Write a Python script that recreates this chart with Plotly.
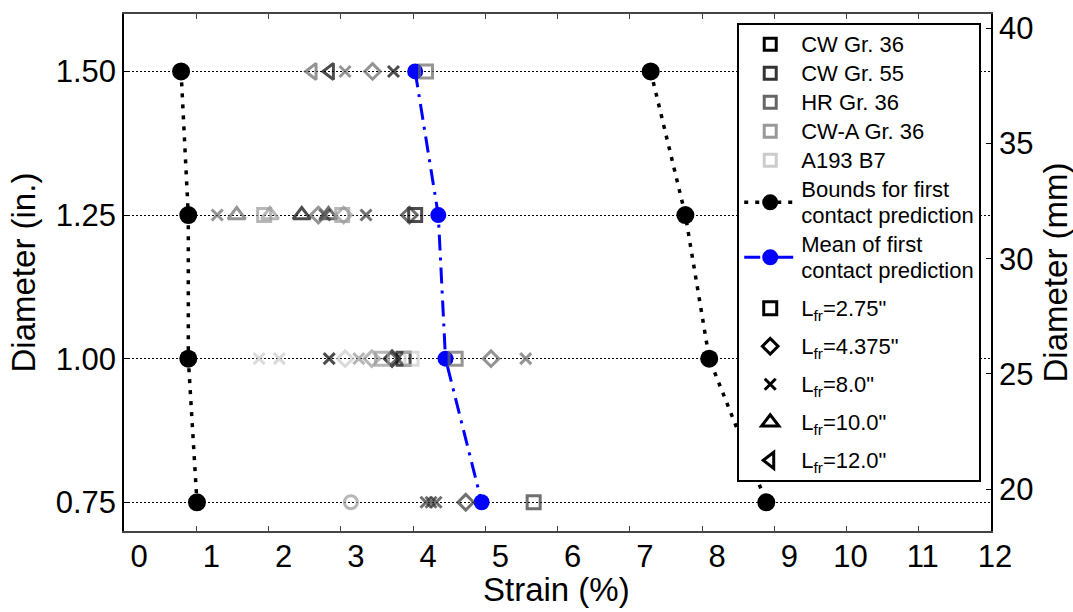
import plotly.graph_objects as go

# Diameter rows (in.) and first-contact prediction curves (strain, %)
diameters = [1.50, 1.25, 1.00, 0.75]
lower_bound = [0.79, 0.89, 0.89, 1.01]
upper_bound = [7.29, 7.77, 8.10, 8.89]
mean_strain = [4.03, 4.35, 4.45, 4.95]

# Materials and their grey levels
materials = ["CW Gr. 36", "CW Gr. 55", "HR Gr. 36", "CW-A Gr. 36", "A193 B7"]
material_colors = ["#000000", "#333333", "#666666", "#999999", "#cccccc"]

# Free lengths and their marker symbols
lfr_keys = ["2.75", "4.375", "8.0", "10.0", "12.0"]
lfr_names = ['L<sub>fr</sub>=2.75"', 'L<sub>fr</sub>=4.375"', 'L<sub>fr</sub>=8.0"',
             'L<sub>fr</sub>=10.0"', 'L<sub>fr</sub>=12.0"']
lfr_symbols = ["square-open", "diamond-open", "x-thin-open", "triangle-up-open", "triangle-left-open"]
lfr_sizes = [13, 12, 11, 15, 14]
symbol_of = dict(zip(lfr_keys, lfr_symbols))
symbol_of["other"] = "circle-open"
size_of = dict(zip(lfr_keys, lfr_sizes))
size_of["other"] = 13

# Measured first-contact strains per material
cw36_strain = [2.85, 3.73, 2.46, 4.03, 2.84, 3.71, 3.87]
cw36_diam = [1.50, 1.50, 1.25, 1.25, 1.00, 1.00, 1.00]
cw36_lfr = ["12.0", "8.0", "10.0", "2.75", "8.0", "4.375", "2.75"]

cw55_strain = [2.78, 2.83, 3.35, 3.95, 3.78, 4.18, 4.25, 4.32, 4.73, 5.67]
cw55_diam = [1.25, 1.25, 1.25, 1.25, 1.00, 0.75, 0.75, 0.75, 0.75, 0.75]
cw55_lfr = ["8.0", "10.0", "8.0", "4.375", "8.0", "8.0", "8.0", "8.0", "4.375", "2.75"]

hr36_strain = [2.61, 3.06, 3.44, 4.18, 1.29, 1.56, 2.69, 4.59, 5.08, 5.56]
hr36_diam = [1.50, 1.50, 1.50, 1.50, 1.25, 1.25, 1.25, 1.00, 1.00, 1.00]
hr36_lfr = ["12.0", "8.0", "4.375", "2.75", "8.0", "10.0", "4.375", "2.75", "4.375", "8.0"]

cwa36_strain = [1.94, 2.02, 3.02, 3.04, 3.25, 3.43, 3.57, 3.14]
cwa36_diam = [1.25, 1.25, 1.25, 1.25, 1.00, 1.00, 1.00, 0.75]
cwa36_lfr = ["2.75", "10.0", "2.75", "4.375", "8.0", "4.375", "2.75", "other"]

a193_strain = [1.87, 2.15, 3.06, 3.98]
a193_diam = [1.00, 1.00, 1.00, 1.00]
a193_lfr = ["8.0", "8.0", "4.375", "2.75"]

series = [
    (cw36_strain, cw36_diam, cw36_lfr),
    (cw55_strain, cw55_diam, cw55_lfr),
    (hr36_strain, hr36_diam, hr36_lfr),
    (cwa36_strain, cwa36_diam, cwa36_lfr),
    (a193_strain, a193_diam, a193_lfr),
]

x_ticks = list(range(0, 13))
x_labels_low = list(range(0, 10))
x_labels_high = [10, 11, 12]
y_ticks = [0.75, 1.00, 1.25, 1.50]
y_ticktext = ["0.75", "1.00", "1.25", "1.50"]
mm_ticks = [20, 25, 30, 35, 40]

FONT = "Liberation Sans, Arial, sans-serif"
MARK_W = 3


def legend_label(*lines):
    """Legend text drawn at 22 px while rows keep the 20 px legend spacing."""
    return "<br>".join(f'<span style="font-size:22px">{ln}</span>' for ln in lines)


fig = go.Figure()

# Legend entries for materials (no data, kept on the overlay axes)
for name, color in zip(materials, material_colors):
    fig.add_trace(go.Scatter(
        x=[None], y=[None], xaxis="x2", yaxis="y2", mode="markers",
        name=legend_label(name), legendgroup="main",
        marker=dict(symbol="square-open", size=12, color=color,
                    line=dict(width=MARK_W, color=color)),
    ))

# Bounds for first contact prediction
bx = lower_bound + [None] + upper_bound
by = diameters + [None] + diameters
fig.add_trace(go.Scatter(
    x=bx, y=by, mode="lines+markers",
    name=legend_label("Bounds for first", "contact prediction"), legendgroup="main",
    line=dict(color="black", width=3.5, dash="4px,7px"),
    marker=dict(symbol="circle", size=18, color="black"),
))

# Mean of first contact prediction
fig.add_trace(go.Scatter(
    x=mean_strain, y=diameters, mode="lines+markers",
    name=legend_label("Mean of first", "contact prediction"), legendgroup="main",
    line=dict(color="#0000ff", width=3, dash="16px,7px,3px,7px"),
    marker=dict(symbol="circle", size=16, color="#0000ff"),
))

# Test results, one trace per material
for name, color, (sx, sy, sl) in zip(materials, material_colors, series):
    fig.add_trace(go.Scatter(
        x=sx, y=sy, mode="markers", name=name, showlegend=False,
        marker=dict(symbol=[symbol_of[k] for k in sl], size=[size_of[k] for k in sl],
                    color=color, line=dict(width=MARK_W, color=color)),
    ))

# Legend entries for free lengths
for i, (name, sym, sz) in enumerate(zip(lfr_names, lfr_symbols, lfr_sizes)):
    fig.add_trace(go.Scatter(
        x=[None], y=[None], xaxis="x3", yaxis="y2", mode="markers",
        name=legend_label(name), legendgroup=f"lfr{i}",
        marker=dict(symbol=sym, size=sz, color="black",
                    line=dict(width=MARK_W, color="black")),
    ))

tick_font = dict(family=FONT, size=31, color="black")
title_font = dict(family=FONT, size=33, color="black")

fig.update_layout(
    width=1073, height=612, autosize=False,
    margin=dict(l=124, r=82, t=14, b=81, pad=0),
    paper_bgcolor="white", plot_bgcolor="white",
    font=dict(family=FONT, color="black"),
    xaxis=dict(
        range=[0, 12], tickvals=x_ticks, showticklabels=False,
        ticks="inside", ticklen=5, tickwidth=1, tickcolor="#444444",
        showline=True, linecolor="#444444", linewidth=1.5, mirror="ticks",
        showgrid=False, zeroline=False, automargin=False,
    ),
    xaxis2=dict(
        range=[0, 12], overlaying="x", side="bottom", anchor="y",
        tickvals=x_labels_low, ticks="", showline=False, showgrid=False,
        zeroline=False, tickfont=tick_font, ticklabelshift=15,
        ticklabelstandoff=4, automargin=False,
    ),
    xaxis3=dict(
        range=[0, 12], overlaying="x", side="bottom", anchor="y",
        tickvals=x_labels_high, ticks="", showline=False, showgrid=False,
        zeroline=False, tickfont=tick_font, ticklabelshift=4,
        ticklabelstandoff=4, automargin=False,
    ),
    yaxis=dict(
        range=[0.7, 1.6], tickvals=y_ticks, ticktext=y_ticktext,
        ticks="inside", ticklen=5, tickwidth=1, tickcolor="black",
        showline=True, linecolor="black", linewidth=1.5,
        showgrid=True, gridcolor="black", gridwidth=1, griddash="2px,2px",
        zeroline=False, tickfont=tick_font, automargin=False,
    ),
    yaxis2=dict(
        range=[18.19, 40.61], overlaying="y", side="right", anchor="x",
        tickvals=mm_ticks, ticks="inside", ticklen=5, tickwidth=1, tickcolor="black",
        showline=True, linecolor="black", linewidth=1.5,
        showgrid=False, zeroline=False, tickfont=tick_font, automargin=False,
    ),
    legend=dict(
        x=0.7073, y=0.983, xanchor="left", yanchor="top",
        bgcolor="white", bordercolor="black", borderwidth=2,
        font=dict(family=FONT, size=20, color="black"),
        itemwidth=52, tracegroupgap=9, traceorder="grouped",
    ),
    annotations=[
        dict(text="Strain (%)", xref="paper", yref="paper", x=0.4985, y=0,
             xanchor="center", yanchor="middle", yshift=-58, showarrow=False, font=title_font),
        dict(text="Diameter (in.)", xref="paper", yref="paper", x=0, y=0.5,
             xanchor="center", yanchor="middle", xshift=-101, textangle=-90,
             showarrow=False, font=title_font),
        dict(text="Diameter (mm)", xref="paper", yref="paper", x=1, y=0.5,
             xanchor="center", yanchor="middle", xshift=64, textangle=-90,
             showarrow=False, font=title_font),
    ],
)

fig.write_html("out.html")
